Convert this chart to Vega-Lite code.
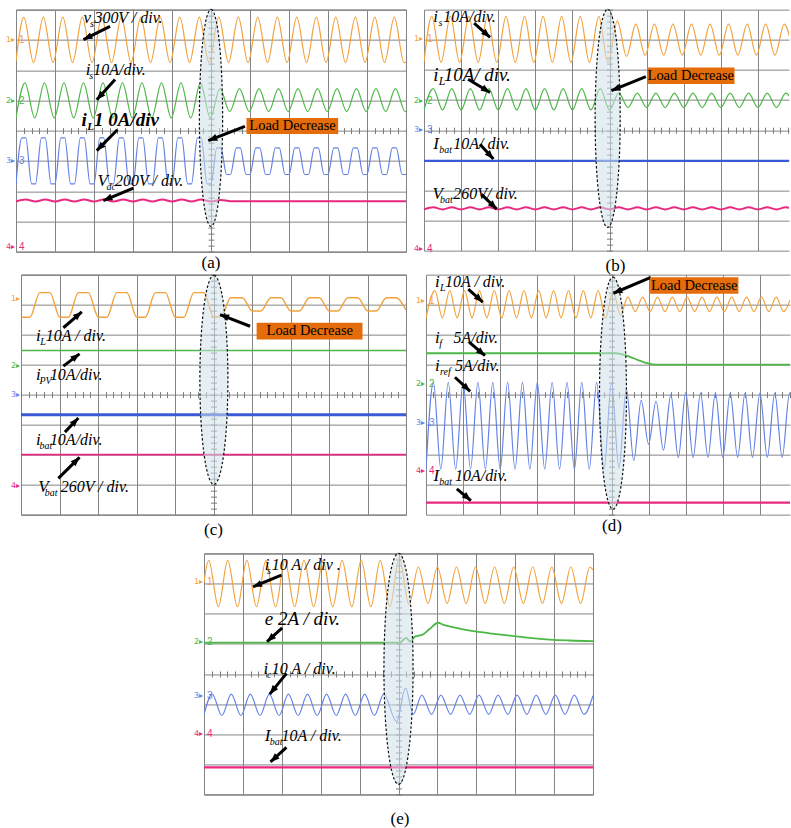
{
"$schema":"https://vega.github.io/schema/vega-lite/v6.json",
"background":"white",
"padding":{"left":0,"top":5.65,"right":0,"bottom":0},
"autosize":{"type":"pad"},
"config":{"view":{"stroke":"#5a5a5a","strokeWidth":1},"axis":{"gridColor":"#858585","gridWidth":1,"gridOpacity":1,"tickColor":"#7a7a7a"},"title":{"font":"Liberation Serif","fontSize":17,"fontWeight":"normal","color":"#000000"}},
"datasets":{
"w":[
{"p":"a","c":1,"t":0,"v":2.3},{"p":"a","c":1,"t":0.2,"v":3.75},{"p":"a","c":1,"t":0.45,"v":2.25},{"p":"a","c":1,"t":0.7,"v":3.75},{"p":"a","c":1,"t":0.95,"v":2.25},{"p":"a","c":1,"t":1.2,"v":3.75},{"p":"a","c":1,"t":1.45,"v":2.25},{"p":"a","c":1,"t":1.7,"v":3.75},{"p":"a","c":1,"t":1.95,"v":2.25},{"p":"a","c":1,"t":2.2,"v":3.75},{"p":"a","c":1,"t":2.45,"v":2.25},{"p":"a","c":1,"t":2.7,"v":3.75},{"p":"a","c":1,"t":2.95,"v":2.25},{"p":"a","c":1,"t":3.2,"v":3.75},{"p":"a","c":1,"t":3.45,"v":2.25},{"p":"a","c":1,"t":3.7,"v":3.75},{"p":"a","c":1,"t":3.95,"v":2.25},{"p":"a","c":1,"t":4.2,"v":3.75},{"p":"a","c":1,"t":4.45,"v":2.25},{"p":"a","c":1,"t":4.7,"v":3.75},{"p":"a","c":1,"t":4.95,"v":2.25},{"p":"a","c":1,"t":5.2,"v":3.75},{"p":"a","c":1,"t":5.45,"v":2.25},{"p":"a","c":1,"t":5.7,"v":3.75},{"p":"a","c":1,"t":5.95,"v":2.25},{"p":"a","c":1,"t":6.2,"v":3.75},{"p":"a","c":1,"t":6.45,"v":2.25},{"p":"a","c":1,"t":6.7,"v":3.75},{"p":"a","c":1,"t":6.95,"v":2.25},{"p":"a","c":1,"t":7.2,"v":3.75},{"p":"a","c":1,"t":7.45,"v":2.25},{"p":"a","c":1,"t":7.7,"v":3.75},{"p":"a","c":1,"t":7.95,"v":2.25},{"p":"a","c":1,"t":8.2,"v":3.75},{"p":"a","c":1,"t":8.45,"v":2.25},{"p":"a","c":1,"t":8.7,"v":3.75},{"p":"a","c":1,"t":8.95,"v":2.25},{"p":"a","c":1,"t":9.2,"v":3.75},{"p":"a","c":1,"t":9.45,"v":2.25},{"p":"a","c":1,"t":9.7,"v":3.75},{"p":"a","c":1,"t":9.95,"v":2.25},{"p":"a","c":1,"t":10,"v":2.27},
{"p":"a","c":2,"t":0,"v":0.43},{"p":"a","c":2,"t":0.23,"v":1.58},{"p":"a","c":2,"t":0.48,"v":0.42},{"p":"a","c":2,"t":0.73,"v":1.58},{"p":"a","c":2,"t":0.98,"v":0.42},{"p":"a","c":2,"t":1.23,"v":1.58},{"p":"a","c":2,"t":1.48,"v":0.42},{"p":"a","c":2,"t":1.73,"v":1.58},{"p":"a","c":2,"t":1.98,"v":0.42},{"p":"a","c":2,"t":2.23,"v":1.58},{"p":"a","c":2,"t":2.48,"v":0.42},{"p":"a","c":2,"t":2.73,"v":1.58},{"p":"a","c":2,"t":2.98,"v":0.42},{"p":"a","c":2,"t":3.23,"v":1.58},{"p":"a","c":2,"t":3.48,"v":0.42},{"p":"a","c":2,"t":3.73,"v":1.58},{"p":"a","c":2,"t":3.98,"v":0.42},{"p":"a","c":2,"t":4.23,"v":1.58},{"p":"a","c":2,"t":4.48,"v":0.42},{"p":"a","c":2,"t":4.73,"v":1.58},{"p":"a","c":2,"t":4.98,"v":0.42},{"p":"a","c":2,"t":5.23,"v":1.39},{"p":"a","c":2,"t":5.48,"v":0.63},{"p":"a","c":2,"t":5.73,"v":1.39},{"p":"a","c":2,"t":5.98,"v":0.63},{"p":"a","c":2,"t":6.23,"v":1.39},{"p":"a","c":2,"t":6.48,"v":0.63},{"p":"a","c":2,"t":6.73,"v":1.39},{"p":"a","c":2,"t":6.98,"v":0.63},{"p":"a","c":2,"t":7.23,"v":1.39},{"p":"a","c":2,"t":7.48,"v":0.63},{"p":"a","c":2,"t":7.73,"v":1.39},{"p":"a","c":2,"t":7.98,"v":0.63},{"p":"a","c":2,"t":8.23,"v":1.39},{"p":"a","c":2,"t":8.48,"v":0.63},{"p":"a","c":2,"t":8.73,"v":1.39},{"p":"a","c":2,"t":8.98,"v":0.63},{"p":"a","c":2,"t":9.23,"v":1.39},{"p":"a","c":2,"t":9.48,"v":0.63},{"p":"a","c":2,"t":9.73,"v":1.39},{"p":"a","c":2,"t":9.98,"v":0.63},{"p":"a","c":2,"t":10,"v":0.64},
{"p":"a","c":3,"t":0,"v":-1.76},
{"p":"a","c":3,"t":0.15,"v":-0.24},{"p":"a","c":3,"t":0.25,"v":-0.24},{"p":"a","c":3,"t":0.4,"v":-1.76},{"p":"a","c":3,"t":0.5,"v":-1.76},
{"p":"a","c":3,"t":0.65,"v":-0.24},{"p":"a","c":3,"t":0.75,"v":-0.24},{"p":"a","c":3,"t":0.9,"v":-1.76},{"p":"a","c":3,"t":1,"v":-1.76},
{"p":"a","c":3,"t":1.15,"v":-0.24},{"p":"a","c":3,"t":1.25,"v":-0.24},{"p":"a","c":3,"t":1.4,"v":-1.76},{"p":"a","c":3,"t":1.5,"v":-1.76},
{"p":"a","c":3,"t":1.65,"v":-0.24},{"p":"a","c":3,"t":1.75,"v":-0.24},{"p":"a","c":3,"t":1.9,"v":-1.76},{"p":"a","c":3,"t":2,"v":-1.76},
{"p":"a","c":3,"t":2.15,"v":-0.24},{"p":"a","c":3,"t":2.25,"v":-0.24},{"p":"a","c":3,"t":2.4,"v":-1.76},{"p":"a","c":3,"t":2.5,"v":-1.76},
{"p":"a","c":3,"t":2.65,"v":-0.24},{"p":"a","c":3,"t":2.75,"v":-0.24},{"p":"a","c":3,"t":2.9,"v":-1.76},{"p":"a","c":3,"t":3,"v":-1.76},
{"p":"a","c":3,"t":3.15,"v":-0.24},{"p":"a","c":3,"t":3.25,"v":-0.24},{"p":"a","c":3,"t":3.4,"v":-1.76},{"p":"a","c":3,"t":3.5,"v":-1.76},
{"p":"a","c":3,"t":3.65,"v":-0.24},{"p":"a","c":3,"t":3.75,"v":-0.24},{"p":"a","c":3,"t":3.9,"v":-1.76},{"p":"a","c":3,"t":4,"v":-1.76},
{"p":"a","c":3,"t":4.15,"v":-0.24},{"p":"a","c":3,"t":4.25,"v":-0.24},{"p":"a","c":3,"t":4.4,"v":-1.76},{"p":"a","c":3,"t":4.5,"v":-1.76},
{"p":"a","c":3,"t":4.65,"v":-0.24},{"p":"a","c":3,"t":4.75,"v":-0.24},{"p":"a","c":3,"t":4.9,"v":-1.76},{"p":"a","c":3,"t":5,"v":-1.76},
{"p":"a","c":3,"t":5.15,"v":-0.57},{"p":"a","c":3,"t":5.25,"v":-0.57},{"p":"a","c":3,"t":5.4,"v":-1.45},{"p":"a","c":3,"t":5.5,"v":-1.45},
{"p":"a","c":3,"t":5.65,"v":-0.57},{"p":"a","c":3,"t":5.75,"v":-0.57},{"p":"a","c":3,"t":5.9,"v":-1.45},{"p":"a","c":3,"t":6,"v":-1.45},
{"p":"a","c":3,"t":6.15,"v":-0.57},{"p":"a","c":3,"t":6.25,"v":-0.57},{"p":"a","c":3,"t":6.4,"v":-1.45},{"p":"a","c":3,"t":6.5,"v":-1.45},
{"p":"a","c":3,"t":6.65,"v":-0.57},{"p":"a","c":3,"t":6.75,"v":-0.57},{"p":"a","c":3,"t":6.9,"v":-1.45},{"p":"a","c":3,"t":7,"v":-1.45},
{"p":"a","c":3,"t":7.15,"v":-0.57},{"p":"a","c":3,"t":7.25,"v":-0.57},{"p":"a","c":3,"t":7.4,"v":-1.45},{"p":"a","c":3,"t":7.5,"v":-1.45},
{"p":"a","c":3,"t":7.65,"v":-0.57},{"p":"a","c":3,"t":7.75,"v":-0.57},{"p":"a","c":3,"t":7.9,"v":-1.45},{"p":"a","c":3,"t":8,"v":-1.45},
{"p":"a","c":3,"t":8.15,"v":-0.57},{"p":"a","c":3,"t":8.25,"v":-0.57},{"p":"a","c":3,"t":8.4,"v":-1.45},{"p":"a","c":3,"t":8.5,"v":-1.45},
{"p":"a","c":3,"t":8.65,"v":-0.57},{"p":"a","c":3,"t":8.75,"v":-0.57},{"p":"a","c":3,"t":8.9,"v":-1.45},{"p":"a","c":3,"t":9,"v":-1.45},
{"p":"a","c":3,"t":9.15,"v":-0.57},{"p":"a","c":3,"t":9.25,"v":-0.57},{"p":"a","c":3,"t":9.4,"v":-1.45},{"p":"a","c":3,"t":9.5,"v":-1.45},
{"p":"a","c":3,"t":9.65,"v":-0.57},{"p":"a","c":3,"t":9.75,"v":-0.57},{"p":"a","c":3,"t":9.9,"v":-1.45},{"p":"a","c":3,"t":10,"v":-1.45},
{"p":"a","c":4,"t":0,"v":-2.34},{"p":"a","c":4,"t":0.25,"v":-2.28},{"p":"a","c":4,"t":0.5,"v":-2.34},{"p":"a","c":4,"t":0.75,"v":-2.28},{"p":"a","c":4,"t":1,"v":-2.34},{"p":"a","c":4,"t":1.25,"v":-2.28},{"p":"a","c":4,"t":1.5,"v":-2.34},{"p":"a","c":4,"t":1.75,"v":-2.28},{"p":"a","c":4,"t":2,"v":-2.34},{"p":"a","c":4,"t":2.25,"v":-2.28},{"p":"a","c":4,"t":2.5,"v":-2.34},{"p":"a","c":4,"t":2.75,"v":-2.28},{"p":"a","c":4,"t":3,"v":-2.34},{"p":"a","c":4,"t":3.25,"v":-2.28},{"p":"a","c":4,"t":3.5,"v":-2.34},{"p":"a","c":4,"t":3.75,"v":-2.28},{"p":"a","c":4,"t":4,"v":-2.34},{"p":"a","c":4,"t":4.25,"v":-2.28},{"p":"a","c":4,"t":4.5,"v":-2.34},{"p":"a","c":4,"t":4.75,"v":-2.28},{"p":"a","c":4,"t":5,"v":-2.34},{"p":"a","c":4,"t":5.25,"v":-2.29},{"p":"a","c":4,"t":5.5,"v":-2.33},{"p":"a","c":4,"t":10,"v":-2.33},
{"p":"b","c":1,"t":0,"v":2.27},{"p":"b","c":1,"t":0.21,"v":3.78},{"p":"b","c":1,"t":0.46,"v":2.25},{"p":"b","c":1,"t":0.71,"v":3.78},{"p":"b","c":1,"t":0.96,"v":2.25},{"p":"b","c":1,"t":1.21,"v":3.78},{"p":"b","c":1,"t":1.46,"v":2.25},{"p":"b","c":1,"t":1.71,"v":3.78},{"p":"b","c":1,"t":1.96,"v":2.25},{"p":"b","c":1,"t":2.21,"v":3.78},{"p":"b","c":1,"t":2.46,"v":2.25},{"p":"b","c":1,"t":2.71,"v":3.78},{"p":"b","c":1,"t":2.96,"v":2.25},{"p":"b","c":1,"t":3.21,"v":3.78},{"p":"b","c":1,"t":3.46,"v":2.25},{"p":"b","c":1,"t":3.71,"v":3.78},{"p":"b","c":1,"t":3.96,"v":2.25},{"p":"b","c":1,"t":4.21,"v":3.78},{"p":"b","c":1,"t":4.46,"v":2.25},{"p":"b","c":1,"t":4.71,"v":3.78},{"p":"b","c":1,"t":4.96,"v":2.25},{"p":"b","c":1,"t":5.21,"v":3.62},{"p":"b","c":1,"t":5.46,"v":2.45},{"p":"b","c":1,"t":5.71,"v":3.52},{"p":"b","c":1,"t":5.96,"v":2.49},{"p":"b","c":1,"t":6.21,"v":3.52},{"p":"b","c":1,"t":6.46,"v":2.49},{"p":"b","c":1,"t":6.71,"v":3.52},{"p":"b","c":1,"t":6.96,"v":2.49},{"p":"b","c":1,"t":7.21,"v":3.52},{"p":"b","c":1,"t":7.46,"v":2.49},{"p":"b","c":1,"t":7.71,"v":3.52},{"p":"b","c":1,"t":7.96,"v":2.49},{"p":"b","c":1,"t":8.21,"v":3.52},{"p":"b","c":1,"t":8.46,"v":2.49},{"p":"b","c":1,"t":8.71,"v":3.52},{"p":"b","c":1,"t":8.96,"v":2.49},{"p":"b","c":1,"t":9.21,"v":3.52},{"p":"b","c":1,"t":9.46,"v":2.49},{"p":"b","c":1,"t":9.71,"v":3.52},{"p":"b","c":1,"t":9.96,"v":2.49},
{"p":"b","c":2,"t":0,"v":0.68},{"p":"b","c":2,"t":0.25,"v":1.38},{"p":"b","c":2,"t":0.5,"v":0.67},{"p":"b","c":2,"t":0.75,"v":1.38},{"p":"b","c":2,"t":1,"v":0.67},{"p":"b","c":2,"t":1.25,"v":1.38},{"p":"b","c":2,"t":1.5,"v":0.67},{"p":"b","c":2,"t":1.75,"v":1.38},{"p":"b","c":2,"t":2,"v":0.67},{"p":"b","c":2,"t":2.25,"v":1.38},{"p":"b","c":2,"t":2.5,"v":0.67},{"p":"b","c":2,"t":2.75,"v":1.38},{"p":"b","c":2,"t":3,"v":0.67},{"p":"b","c":2,"t":3.25,"v":1.38},{"p":"b","c":2,"t":3.5,"v":0.67},{"p":"b","c":2,"t":3.75,"v":1.38},{"p":"b","c":2,"t":4,"v":0.67},{"p":"b","c":2,"t":4.25,"v":1.38},{"p":"b","c":2,"t":4.5,"v":0.67},{"p":"b","c":2,"t":4.75,"v":1.38},{"p":"b","c":2,"t":5,"v":0.67},{"p":"b","c":2,"t":5.25,"v":1.23},{"p":"b","c":2,"t":5.5,"v":0.75},{"p":"b","c":2,"t":5.75,"v":1.23},{"p":"b","c":2,"t":6,"v":0.75},{"p":"b","c":2,"t":6.25,"v":1.23},{"p":"b","c":2,"t":6.5,"v":0.75},{"p":"b","c":2,"t":6.75,"v":1.23},{"p":"b","c":2,"t":7,"v":0.75},{"p":"b","c":2,"t":7.25,"v":1.23},{"p":"b","c":2,"t":7.5,"v":0.75},{"p":"b","c":2,"t":7.75,"v":1.23},{"p":"b","c":2,"t":8,"v":0.75},{"p":"b","c":2,"t":8.25,"v":1.23},{"p":"b","c":2,"t":8.5,"v":0.75},{"p":"b","c":2,"t":8.75,"v":1.23},{"p":"b","c":2,"t":9,"v":0.75},{"p":"b","c":2,"t":9.25,"v":1.23},{"p":"b","c":2,"t":9.5,"v":0.75},{"p":"b","c":2,"t":9.75,"v":1.23},{"p":"b","c":2,"t":10,"v":0.75},
{"p":"b","c":3,"t":0,"v":-1.02},{"p":"b","c":3,"t":10,"v":-1.02},
{"p":"b","c":4,"t":0,"v":-2.63},{"p":"b","c":4,"t":0.25,"v":-2.56},{"p":"b","c":4,"t":0.5,"v":-2.63},{"p":"b","c":4,"t":0.75,"v":-2.56},{"p":"b","c":4,"t":1,"v":-2.63},{"p":"b","c":4,"t":1.25,"v":-2.56},{"p":"b","c":4,"t":1.5,"v":-2.63},{"p":"b","c":4,"t":1.75,"v":-2.56},{"p":"b","c":4,"t":2,"v":-2.63},{"p":"b","c":4,"t":2.25,"v":-2.56},{"p":"b","c":4,"t":2.5,"v":-2.63},{"p":"b","c":4,"t":2.75,"v":-2.56},{"p":"b","c":4,"t":3,"v":-2.63},{"p":"b","c":4,"t":3.25,"v":-2.56},{"p":"b","c":4,"t":3.5,"v":-2.63},{"p":"b","c":4,"t":3.75,"v":-2.56},{"p":"b","c":4,"t":4,"v":-2.63},{"p":"b","c":4,"t":4.25,"v":-2.56},{"p":"b","c":4,"t":4.5,"v":-2.63},{"p":"b","c":4,"t":4.75,"v":-2.56},{"p":"b","c":4,"t":5,"v":-2.63},{"p":"b","c":4,"t":5.25,"v":-2.56},{"p":"b","c":4,"t":5.5,"v":-2.63},{"p":"b","c":4,"t":5.75,"v":-2.56},{"p":"b","c":4,"t":6,"v":-2.63},{"p":"b","c":4,"t":6.25,"v":-2.56},{"p":"b","c":4,"t":6.5,"v":-2.63},{"p":"b","c":4,"t":6.75,"v":-2.56},{"p":"b","c":4,"t":7,"v":-2.63},{"p":"b","c":4,"t":7.25,"v":-2.56},{"p":"b","c":4,"t":7.5,"v":-2.63},{"p":"b","c":4,"t":7.75,"v":-2.56},{"p":"b","c":4,"t":8,"v":-2.63},{"p":"b","c":4,"t":8.25,"v":-2.56},{"p":"b","c":4,"t":8.5,"v":-2.63},{"p":"b","c":4,"t":8.75,"v":-2.56},{"p":"b","c":4,"t":9,"v":-2.63},{"p":"b","c":4,"t":9.25,"v":-2.56},{"p":"b","c":4,"t":9.5,"v":-2.63},{"p":"b","c":4,"t":9.75,"v":-2.56},{"p":"b","c":4,"t":10,"v":-2.63},
{"p":"c","c":1,"t":0,"v":2.58},{"p":"c","c":1,"t":0.23,"v":2.58},{"p":"c","c":1,"t":0.49,"v":3.4},{"p":"c","c":1,"t":0.75,"v":3.4},{"p":"c","c":1,"t":1.01,"v":2.58},{"p":"c","c":1,"t":1.23,"v":2.58},{"p":"c","c":1,"t":1.49,"v":3.4},{"p":"c","c":1,"t":1.75,"v":3.4},{"p":"c","c":1,"t":2.01,"v":2.58},{"p":"c","c":1,"t":2.23,"v":2.58},{"p":"c","c":1,"t":2.49,"v":3.4},{"p":"c","c":1,"t":2.75,"v":3.4},{"p":"c","c":1,"t":3.01,"v":2.58},{"p":"c","c":1,"t":3.23,"v":2.58},{"p":"c","c":1,"t":3.49,"v":3.4},{"p":"c","c":1,"t":3.75,"v":3.4},{"p":"c","c":1,"t":4.01,"v":2.58},{"p":"c","c":1,"t":4.23,"v":2.58},{"p":"c","c":1,"t":4.49,"v":3.4},{"p":"c","c":1,"t":4.75,"v":3.4},{"p":"c","c":1,"t":5.01,"v":2.58},{"p":"c","c":1,"t":5.2,"v":2.6},{"p":"c","c":1,"t":5.45,"v":3.23},{"p":"c","c":1,"t":5.75,"v":3.23},{"p":"c","c":1,"t":6.01,"v":2.79},{"p":"c","c":1,"t":6.23,"v":2.79},{"p":"c","c":1,"t":6.49,"v":3.23},{"p":"c","c":1,"t":6.75,"v":3.23},{"p":"c","c":1,"t":7.01,"v":2.79},{"p":"c","c":1,"t":7.23,"v":2.79},{"p":"c","c":1,"t":7.49,"v":3.23},{"p":"c","c":1,"t":7.75,"v":3.23},{"p":"c","c":1,"t":8.01,"v":2.79},{"p":"c","c":1,"t":8.23,"v":2.79},{"p":"c","c":1,"t":8.49,"v":3.23},{"p":"c","c":1,"t":8.75,"v":3.23},{"p":"c","c":1,"t":9.01,"v":2.79},{"p":"c","c":1,"t":9.23,"v":2.79},{"p":"c","c":1,"t":9.49,"v":3.23},{"p":"c","c":1,"t":9.75,"v":3.23},{"p":"c","c":1,"t":10,"v":2.82},
{"p":"c","c":2,"t":0,"v":1.47},{"p":"c","c":2,"t":10,"v":1.47},
{"p":"c","c":3,"t":0,"v":-0.67},{"p":"c","c":3,"t":10,"v":-0.67},
{"p":"c","c":4,"t":0,"v":-2.0},{"p":"c","c":4,"t":10,"v":-2.0},
{"p":"d","c":1,"t":0,"v":2.57},{"p":"d","c":1,"t":0.24,"v":3.47},{"p":"d","c":1,"t":0.44,"v":2.56},{"p":"d","c":1,"t":0.64,"v":3.47},{"p":"d","c":1,"t":0.84,"v":2.56},{"p":"d","c":1,"t":1.04,"v":3.47},{"p":"d","c":1,"t":1.24,"v":2.56},{"p":"d","c":1,"t":1.44,"v":3.47},{"p":"d","c":1,"t":1.64,"v":2.56},{"p":"d","c":1,"t":1.84,"v":3.47},{"p":"d","c":1,"t":2.04,"v":2.56},{"p":"d","c":1,"t":2.24,"v":3.47},{"p":"d","c":1,"t":2.44,"v":2.56},{"p":"d","c":1,"t":2.64,"v":3.47},{"p":"d","c":1,"t":2.84,"v":2.56},{"p":"d","c":1,"t":3.04,"v":3.47},{"p":"d","c":1,"t":3.24,"v":2.56},{"p":"d","c":1,"t":3.44,"v":3.47},{"p":"d","c":1,"t":3.64,"v":2.56},{"p":"d","c":1,"t":3.84,"v":3.47},{"p":"d","c":1,"t":4.04,"v":2.56},{"p":"d","c":1,"t":4.24,"v":3.47},{"p":"d","c":1,"t":4.44,"v":2.56},{"p":"d","c":1,"t":4.64,"v":3.47},{"p":"d","c":1,"t":4.84,"v":2.56},{"p":"d","c":1,"t":5.04,"v":3.47},{"p":"d","c":1,"t":5.24,"v":2.65},{"p":"d","c":1,"t":5.44,"v":3.25},{"p":"d","c":1,"t":5.64,"v":2.77},{"p":"d","c":1,"t":5.84,"v":3.25},{"p":"d","c":1,"t":6.04,"v":2.77},{"p":"d","c":1,"t":6.24,"v":3.25},{"p":"d","c":1,"t":6.44,"v":2.77},{"p":"d","c":1,"t":6.64,"v":3.25},{"p":"d","c":1,"t":6.84,"v":2.77},{"p":"d","c":1,"t":7.04,"v":3.25},{"p":"d","c":1,"t":7.24,"v":2.77},{"p":"d","c":1,"t":7.44,"v":3.25},{"p":"d","c":1,"t":7.64,"v":2.77},{"p":"d","c":1,"t":7.84,"v":3.25},{"p":"d","c":1,"t":8.04,"v":2.77},{"p":"d","c":1,"t":8.24,"v":3.25},{"p":"d","c":1,"t":8.44,"v":2.77},{"p":"d","c":1,"t":8.64,"v":3.25},{"p":"d","c":1,"t":8.84,"v":2.77},{"p":"d","c":1,"t":9.04,"v":3.25},{"p":"d","c":1,"t":9.24,"v":2.77},{"p":"d","c":1,"t":9.44,"v":3.25},{"p":"d","c":1,"t":9.64,"v":2.77},{"p":"d","c":1,"t":9.84,"v":3.25},
{"p":"d","c":2,"t":0,"v":1.38},{"p":"d","c":2,"t":5.1,"v":1.38},{"p":"d","c":2,"t":5.3,"v":1.34},{"p":"d","c":2,"t":5.5,"v":1.26},{"p":"d","c":2,"t":5.7,"v":1.16},{"p":"d","c":2,"t":5.9,"v":1.07},{"p":"d","c":2,"t":6.1,"v":1.01},{"p":"d","c":2,"t":6.25,"v":1.0},{"p":"d","c":2,"t":9.84,"v":1.0},
{"p":"d","c":3,"t":0,"v":-2.48},{"p":"d","c":3,"t":0.2,"v":0.41},{"p":"d","c":3,"t":0.4,"v":-2.48},{"p":"d","c":3,"t":0.6,"v":0.41},{"p":"d","c":3,"t":0.8,"v":-2.48},{"p":"d","c":3,"t":1,"v":0.41},{"p":"d","c":3,"t":1.2,"v":-2.48},{"p":"d","c":3,"t":1.4,"v":0.41},{"p":"d","c":3,"t":1.6,"v":-2.48},{"p":"d","c":3,"t":1.8,"v":0.41},{"p":"d","c":3,"t":2,"v":-2.48},{"p":"d","c":3,"t":2.2,"v":0.41},{"p":"d","c":3,"t":2.4,"v":-2.48},{"p":"d","c":3,"t":2.6,"v":0.41},{"p":"d","c":3,"t":2.8,"v":-2.48},{"p":"d","c":3,"t":3,"v":0.41},{"p":"d","c":3,"t":3.2,"v":-2.48},{"p":"d","c":3,"t":3.4,"v":0.41},{"p":"d","c":3,"t":3.6,"v":-2.48},{"p":"d","c":3,"t":3.8,"v":0.41},{"p":"d","c":3,"t":4,"v":-2.48},{"p":"d","c":3,"t":4.2,"v":0.41},{"p":"d","c":3,"t":4.4,"v":-2.48},{"p":"d","c":3,"t":4.6,"v":0.41},{"p":"d","c":3,"t":4.8,"v":-2.48},{"p":"d","c":3,"t":5,"v":0.41},{"p":"d","c":3,"t":5.2,"v":-2.45},{"p":"d","c":3,"t":5.4,"v":0.19},{"p":"d","c":3,"t":5.6,"v":-2.2},{"p":"d","c":3,"t":5.8,"v":-0.19},{"p":"d","c":3,"t":6,"v":-1.65},{"p":"d","c":3,"t":6.2,"v":-0.22},{"p":"d","c":3,"t":6.4,"v":-1.85},{"p":"d","c":3,"t":6.6,"v":0},{"p":"d","c":3,"t":6.8,"v":-2.1},{"p":"d","c":3,"t":7,"v":0.07},{"p":"d","c":3,"t":7.2,"v":-2.09},{"p":"d","c":3,"t":7.4,"v":0.05},{"p":"d","c":3,"t":7.6,"v":-2.09},{"p":"d","c":3,"t":7.8,"v":0.05},{"p":"d","c":3,"t":8,"v":-2.09},{"p":"d","c":3,"t":8.2,"v":0.05},{"p":"d","c":3,"t":8.4,"v":-2.09},{"p":"d","c":3,"t":8.6,"v":0.05},{"p":"d","c":3,"t":8.8,"v":-2.09},{"p":"d","c":3,"t":9,"v":0.05},{"p":"d","c":3,"t":9.2,"v":-2.09},{"p":"d","c":3,"t":9.4,"v":0.05},{"p":"d","c":3,"t":9.6,"v":-2.09},{"p":"d","c":3,"t":9.8,"v":0.05},{"p":"d","c":3,"t":10,"v":-2.09},
{"p":"d","c":4,"t":0,"v":-3.6},{"p":"d","c":4,"t":9.84,"v":-3.6},
{"p":"e","c":1,"t":0,"v":3.05},{"p":"e","c":1,"t":0.12,"v":3.77},{"p":"e","c":1,"t":0.37,"v":2.23},{"p":"e","c":1,"t":0.61,"v":3.77},{"p":"e","c":1,"t":0.86,"v":2.23},{"p":"e","c":1,"t":1.1,"v":3.77},{"p":"e","c":1,"t":1.35,"v":2.23},{"p":"e","c":1,"t":1.59,"v":3.77},{"p":"e","c":1,"t":1.84,"v":2.23},{"p":"e","c":1,"t":2.08,"v":3.77},{"p":"e","c":1,"t":2.33,"v":2.23},{"p":"e","c":1,"t":2.57,"v":3.77},{"p":"e","c":1,"t":2.82,"v":2.23},{"p":"e","c":1,"t":3.06,"v":3.77},{"p":"e","c":1,"t":3.31,"v":2.23},{"p":"e","c":1,"t":3.55,"v":3.77},{"p":"e","c":1,"t":3.8,"v":2.23},{"p":"e","c":1,"t":4.04,"v":3.77},{"p":"e","c":1,"t":4.29,"v":2.23},{"p":"e","c":1,"t":4.53,"v":3.77},{"p":"e","c":1,"t":4.78,"v":2.23},{"p":"e","c":1,"t":5.02,"v":3.85},{"p":"e","c":1,"t":5.27,"v":2.3},{"p":"e","c":1,"t":5.51,"v":3.55},{"p":"e","c":1,"t":5.76,"v":2.34},{"p":"e","c":1,"t":6,"v":3.55},{"p":"e","c":1,"t":6.25,"v":2.34},{"p":"e","c":1,"t":6.49,"v":3.55},{"p":"e","c":1,"t":6.74,"v":2.34},{"p":"e","c":1,"t":6.98,"v":3.55},{"p":"e","c":1,"t":7.23,"v":2.34},{"p":"e","c":1,"t":7.47,"v":3.55},{"p":"e","c":1,"t":7.72,"v":2.34},{"p":"e","c":1,"t":7.96,"v":3.55},{"p":"e","c":1,"t":8.21,"v":2.34},{"p":"e","c":1,"t":8.45,"v":3.55},{"p":"e","c":1,"t":8.7,"v":2.34},{"p":"e","c":1,"t":8.94,"v":3.55},{"p":"e","c":1,"t":9.19,"v":2.34},{"p":"e","c":1,"t":9.43,"v":3.55},{"p":"e","c":1,"t":9.68,"v":2.34},{"p":"e","c":1,"t":9.92,"v":3.55},{"p":"e","c":1,"t":10,"v":3.45},
{"p":"e","c":2,"t":0,"v":1.04},{"p":"e","c":2,"t":5.03,"v":1.04},{"p":"e","c":2,"t":5.2,"v":1.2},{"p":"e","c":2,"t":5.3,"v":1.07},{"p":"e","c":2,"t":5.42,"v":1.24},{"p":"e","c":2,"t":5.63,"v":1.31},{"p":"e","c":2,"t":5.8,"v":1.49},{"p":"e","c":2,"t":6.02,"v":1.7},{"p":"e","c":2,"t":6.14,"v":1.64},{"p":"e","c":2,"t":6.49,"v":1.53},{"p":"e","c":2,"t":6.92,"v":1.42},{"p":"e","c":2,"t":7.34,"v":1.35},{"p":"e","c":2,"t":7.86,"v":1.27},{"p":"e","c":2,"t":8.37,"v":1.2},{"p":"e","c":2,"t":8.89,"v":1.14},{"p":"e","c":2,"t":9.4,"v":1.11},{"p":"e","c":2,"t":10,"v":1.09},
{"p":"e","c":3,"t":0,"v":-1.35},{"p":"e","c":3,"t":0.21,"v":-0.67},{"p":"e","c":3,"t":0.46,"v":-1.38},{"p":"e","c":3,"t":0.7,"v":-0.67},{"p":"e","c":3,"t":0.95,"v":-1.38},{"p":"e","c":3,"t":1.19,"v":-0.67},{"p":"e","c":3,"t":1.44,"v":-1.38},{"p":"e","c":3,"t":1.68,"v":-0.67},{"p":"e","c":3,"t":1.93,"v":-1.38},{"p":"e","c":3,"t":2.17,"v":-0.67},{"p":"e","c":3,"t":2.42,"v":-1.38},{"p":"e","c":3,"t":2.66,"v":-0.67},{"p":"e","c":3,"t":2.91,"v":-1.38},{"p":"e","c":3,"t":3.15,"v":-0.67},{"p":"e","c":3,"t":3.4,"v":-1.38},{"p":"e","c":3,"t":3.64,"v":-0.67},{"p":"e","c":3,"t":3.89,"v":-1.38},{"p":"e","c":3,"t":4.13,"v":-0.67},{"p":"e","c":3,"t":4.38,"v":-1.38},{"p":"e","c":3,"t":4.62,"v":-0.67},{"p":"e","c":3,"t":4.95,"v":-1.58},{"p":"e","c":3,"t":5.18,"v":-0.47},{"p":"e","c":3,"t":5.38,"v":-1.34},{"p":"e","c":3,"t":5.6,"v":-0.7},{"p":"e","c":3,"t":5.85,"v":-1.34},{"p":"e","c":3,"t":6.09,"v":-0.7},{"p":"e","c":3,"t":6.34,"v":-1.34},{"p":"e","c":3,"t":6.58,"v":-0.7},{"p":"e","c":3,"t":6.83,"v":-1.34},{"p":"e","c":3,"t":7.07,"v":-0.7},{"p":"e","c":3,"t":7.32,"v":-1.34},{"p":"e","c":3,"t":7.56,"v":-0.7},{"p":"e","c":3,"t":7.81,"v":-1.34},{"p":"e","c":3,"t":8.05,"v":-0.7},{"p":"e","c":3,"t":8.3,"v":-1.34},{"p":"e","c":3,"t":8.54,"v":-0.7},{"p":"e","c":3,"t":8.79,"v":-1.34},{"p":"e","c":3,"t":9.03,"v":-0.7},{"p":"e","c":3,"t":9.28,"v":-1.34},{"p":"e","c":3,"t":9.52,"v":-0.7},{"p":"e","c":3,"t":9.77,"v":-1.34},{"p":"e","c":3,"t":10,"v":-0.72},
{"p":"e","c":4,"t":0,"v":-3.1},{"p":"e","c":4,"t":10,"v":-3.1}
],
"ell":[{"p":"a","t":5.0,"v":0.42},{"p":"b","t":4.95,"v":0.39},{"p":"c","t":5.01,"v":0.49},{"p":"d","t":5.04,"v":0.05},{"p":"e","t":5.0,"v":0.17}],
"arr":[
{"p":"a","t1":2.41,"v1":3.45,"t2":1.73,"v2":3.01},{"p":"a","t1":2.54,"v1":1.69,"t2":2.07,"v2":1.02},{"p":"a","t1":2.6,"v1":0.03,"t2":2.07,"v2":-0.66},{"p":"a","t1":3.01,"v1":-1.9,"t2":2.24,"v2":-2.31},{"p":"a","t1":5.87,"v1":0.14,"t2":4.93,"v2":-0.33},
{"p":"b","t1":1.35,"v1":3.55,"t2":1.78,"v2":3.08},{"p":"b","t1":1.19,"v1":1.69,"t2":1.78,"v2":1.25},{"p":"b","t1":1.51,"v1":-0.47,"t2":1.87,"v2":-0.96},{"p":"b","t1":1.55,"v1":-2.13,"t2":1.96,"v2":-2.62},{"p":"b","t1":5.98,"v1":1.78,"t2":5.05,"v2":1.31},
{"p":"c","t1":1.1,"v1":2.23,"t2":1.58,"v2":2.76},{"p":"c","t1":1.1,"v1":0.95,"t2":1.52,"v2":1.36},{"p":"c","t1":1.14,"v1":-1.25,"t2":1.49,"v2":-0.78},{"p":"c","t1":0.97,"v1":-2.79,"t2":1.52,"v2":-2.09},{"p":"c","t1":5.95,"v1":2.28,"t2":5.17,"v2":2.67},
{"p":"d","t1":1.14,"v1":3.52,"t2":1.53,"v2":3.08},{"p":"d","t1":1.17,"v1":1.74,"t2":1.59,"v2":1.3},{"p":"d","t1":0.78,"v1":0.58,"t2":1.19,"v2":0.11},{"p":"d","t1":0.83,"v1":-3.14,"t2":1.21,"v2":-3.53},{"p":"d","t1":6.06,"v1":3.91,"t2":5.05,"v2":3.38},
{"p":"e","t1":1.99,"v1":3.28,"t2":1.26,"v2":2.89},{"p":"e","t1":2.01,"v1":1.53,"t2":1.62,"v2":1.07},{"p":"e","t1":2.12,"v1":0.02,"t2":1.69,"v2":-0.67},{"p":"e","t1":2.12,"v1":-2.44,"t2":1.71,"v2":-2.92}
],
"lab":[
{"p":"a","b":"v","s":"s","r":"300V / div.","tb":1.73,"vb":3.56,"ts":1.9,"tr":2.01},
{"p":"a","b":"i","s":"s","r":"10A/div.","tb":1.79,"vb":1.83,"ts":1.88,"tr":1.98},
{"p":"a","b":"i","s":"L","r":"1 0A/div","tb":1.68,"vb":0.14,"ts":1.83,"tr":2.0},
{"p":"a","b":"V","s":"dc","r":"200V / div.","tb":2.09,"vb":-1.84,"ts":2.32,"tr":2.54},
{"p":"b","b":"i","s":"s","r":"10A/div.","tb":0.25,"vb":3.58,"ts":0.39,"tr":0.52},
{"p":"b","b":"i","s":"L","r":"10A/ div.","tb":0.25,"vb":1.64,"ts":0.4,"tr":0.53},
{"p":"b","b":"I","s":"bat","r":"10A/ div.","tb":0.25,"vb":-0.63,"ts":0.41,"tr":0.79},
{"p":"b","b":"V","s":"bat","r":"260V/ div.","tb":0.23,"vb":-2.29,"ts":0.43,"tr":0.79},
{"p":"c","b":"i","s":"L","r":"10A / div.","tb":0.39,"vb":1.8,"ts":0.5,"tr":0.64},
{"p":"c","b":"i","s":"PV","r":"10A/div.","tb":0.39,"vb":0.5,"ts":0.48,"tr":0.75},
{"p":"c","b":"i","s":"bat","r":"10A/div.","tb":0.39,"vb":-1.67,"ts":0.48,"tr":0.75},
{"p":"c","b":"V","s":"bat","r":"260V / div.","tb":0.45,"vb":-3.25,"ts":0.62,"tr":1.03},
{"p":"d","b":"i","s":"L","r":"10A / div.","tb":0.24,"vb":3.6,"ts":0.38,"tr":0.51},
{"p":"d","b":"i","s":"f","r":"5A/div.","tb":0.24,"vb":1.71,"ts":0.36,"tr":0.74},
{"p":"d","b":"i","s":"ref","r":"5A/div.","tb":0.24,"vb":0.8,"ts":0.38,"tr":0.78},
{"p":"d","b":"I","s":"bat","r":"10A/div.","tb":0.2,"vb":-2.87,"ts":0.36,"tr":0.78},
{"p":"e","b":"i","s":"s","r":"10 A / div .","tb":1.56,"vb":3.44,"ts":1.62,"tr":1.74},
{"p":"e","b":"e","s":"","r":"2A / div.","tb":1.56,"vb":1.62,"ts":1.7,"tr":1.9},
{"p":"e","b":"i","s":"c","r":"10 A / div.","tb":1.53,"vb":-0.01,"ts":1.62,"tr":1.74},
{"p":"e","b":"I","s":"bat","r":"10A / div.","tb":1.56,"vb":-2.22,"ts":1.69,"tr":1.99}
],
"box":[
{"p":"a","t1":5.91,"t2":8.26,"v1":0.42,"v2":-0.11,"tc":7.09,"vc":0.155},
{"p":"b","t1":6.01,"t2":8.37,"v1":2.08,"v2":1.53,"tc":7.19,"vc":1.805},
{"p":"c","t1":6.12,"t2":8.87,"v1":2.4,"v2":1.84,"tc":7.5,"vc":2.12},
{"p":"d","t1":6.04,"t2":8.42,"v1":3.91,"v2":3.36,"tc":7.23,"vc":3.635}
],
"chm":[
{"p":"a","c":1,"v":3.0,"m":"1▸"},{"p":"a","c":2,"v":0.99,"m":"2▸"},{"p":"a","c":3,"v":-0.99,"m":"3▸"},{"p":"a","c":4,"v":-3.86,"m":"4▸"},
{"p":"b","c":1,"v":3.02,"m":"1▸"},{"p":"b","c":2,"v":0.97,"m":"2▸"},{"p":"b","c":3,"v":0,"m":"3▸"},{"p":"b","c":4,"v":-3.95,"m":"4▸"},
{"p":"c","c":1,"v":3.18,"m":"1▸"},{"p":"c","c":2,"v":0.97,"m":"2▸"},{"p":"c","c":3,"v":0,"m":"3▸"},{"p":"c","c":4,"v":-3.06,"m":"4▸"},
{"p":"d","c":1,"v":3.13,"m":"1▸"},{"p":"d","c":2,"v":0.36,"m":"2▸"},{"p":"d","c":3,"v":-0.96,"m":"3▸"},{"p":"d","c":4,"v":-2.56,"m":"4▸"},
{"p":"e","c":1,"v":3.04,"m":"1▸"},{"p":"e","c":2,"v":1.07,"m":"2▸"},{"p":"e","c":3,"v":-0.72,"m":"3▸"},{"p":"e","c":4,"v":-2.0,"m":"4▸"}
]
},
"spacing":10.8,
"bounds":"full",
"vconcat":[
{"spacing":-5,"bounds":"full","vconcat":[
{"spacing":0,"bounds":"flush","hconcat":[
{"width":16,"height":10,"view":{"stroke":null},"data":{"values":[{"z":0}]},"mark":{"type":"point","opacity":0},"encoding":{}},
{"width":390,"height":242,"title":{"text":"(a)","orient":"bottom","offset":3,"baseline":"top"},
"layer":[
{"data":{"name":"w"},"transform":[{"filter":"datum.p=='a'"}],"mark":{"type":"line","interpolate":"monotone","clip":true},
"encoding":{"x":{"field":"t","type":"quantitative","scale":{"domain":[0,10],"nice":false,"zero":false},"axis":{"orient":"top","values":[0,1,2,3,4,5,6,7,8,9,10],"grid":true,"labels":false,"ticks":false,"domain":false,"title":null}},
"y":{"field":"v","type":"quantitative","scale":{"domain":[-4,4],"nice":false,"zero":false},"axis":{"orient":"right","minExtent":0,"values":[-4,-3,-2,-1,0,1,2,3,4],"grid":true,"labels":false,"ticks":false,"domain":false,"title":null}},
"color":{"field":"c","type":"nominal","scale":{"domain":[1,2,3,4],"range":["#F2A23C","#4DB748","#6482E6","#E8297F"]},"legend":null},
"strokeWidth":{"condition":{"test":"datum.c==4","value":2},"value":1.2}}},
{"data":{"name":"ell"},"transform":[{"filter":"datum.p=='a'"}],"mark":{"type":"point","shape":"M0,-1A0.107,1,0,1,1,0,1A0.107,1,0,1,1,0,-1Z","size":47089,"filled":true,"fill":"#cfe2ea","fillOpacity":0.55,"stroke":"#111111","strokeWidth":1.2,"strokeDash":[2.5,2],"opacity":1},
"encoding":{"x":{"field":"t","type":"quantitative","axis":{"orient":"bottom","offset":-124,"tickCount":50,"ticks":true,"tickSize":6,"labels":false,"domain":false,"grid":false,"title":null}},
"y":{"field":"v","type":"quantitative","axis":{"orient":"left","offset":-198,"tickCount":40,"ticks":true,"tickSize":6,"labels":false,"domain":false,"grid":false,"title":null}}}},
{"data":{"name":"arr"},"transform":[{"filter":"datum.p=='a'"}],"mark":{"type":"rule","strokeWidth":3,"color":"#000000"},
"encoding":{"x":{"field":"t1","type":"quantitative","axis":null},"y":{"field":"v1","type":"quantitative","axis":null},"x2":{"field":"t2"},"y2":{"field":"v2"}}},
{"data":{"name":"arr"},"transform":[{"filter":"datum.p=='a'"},{"calculate":"atan2((datum.t2-datum.t1)*39,(datum.v2-datum.v1)*30.25)*180/PI","as":"ang"}],"mark":{"type":"point","shape":"M0,0L0.7,1.8L-0.7,1.8Z","size":100,"filled":true,"color":"#000000","opacity":1},
"encoding":{"x":{"field":"t2","type":"quantitative","axis":null},"y":{"field":"v2","type":"quantitative","axis":null},"angle":{"field":"ang","type":"quantitative","scale":null}}},
{"data":{"name":"lab"},"transform":[{"filter":"datum.p=='a' && datum.s!='L'"}],"mark":{"type":"text","font":"Liberation Serif","fontStyle":"italic","align":"left","baseline":"alphabetic","color":"#000000","fontSize":17},
"encoding":{"x":{"field":"tb","type":"quantitative","axis":null},"y":{"field":"vb","type":"quantitative","axis":null},"text":{"field":"b","type":"nominal"}}},
{"data":{"name":"lab"},"transform":[{"filter":"datum.p=='a' && datum.s!='L'"}],"mark":{"type":"text","font":"Liberation Serif","fontStyle":"italic","align":"left","baseline":"alphabetic","color":"#000000","fontSize":10,"dy":4},
"encoding":{"x":{"field":"ts","type":"quantitative","axis":null},"y":{"field":"vb","type":"quantitative","axis":null},"text":{"field":"s","type":"nominal"}}},
{"data":{"name":"lab"},"transform":[{"filter":"datum.p=='a' && datum.s!='L'"}],"mark":{"type":"text","font":"Liberation Serif","fontStyle":"italic","align":"left","baseline":"alphabetic","color":"#000000","fontSize":16},
"encoding":{"x":{"field":"tr","type":"quantitative","axis":null},"y":{"field":"vb","type":"quantitative","axis":null},"text":{"field":"r","type":"nominal"}}},
{"data":{"name":"lab"},"transform":[{"filter":"datum.p=='a' && datum.s=='L'"}],"mark":{"type":"text","font":"Liberation Serif","fontStyle":"italic","fontWeight":"bold","align":"left","baseline":"alphabetic","color":"#000000","fontSize":19},
"encoding":{"x":{"field":"tb","type":"quantitative","axis":null},"y":{"field":"vb","type":"quantitative","axis":null},"text":{"field":"b","type":"nominal"}}},
{"data":{"name":"lab"},"transform":[{"filter":"datum.p=='a' && datum.s=='L'"}],"mark":{"type":"text","font":"Liberation Serif","fontStyle":"italic","fontWeight":"bold","align":"left","baseline":"alphabetic","color":"#000000","fontSize":11,"dy":4},
"encoding":{"x":{"field":"ts","type":"quantitative","axis":null},"y":{"field":"vb","type":"quantitative","axis":null},"text":{"field":"s","type":"nominal"}}},
{"data":{"name":"lab"},"transform":[{"filter":"datum.p=='a' && datum.s=='L'"}],"mark":{"type":"text","font":"Liberation Serif","fontStyle":"italic","fontWeight":"bold","align":"left","baseline":"alphabetic","color":"#000000","fontSize":19},
"encoding":{"x":{"field":"tr","type":"quantitative","axis":null},"y":{"field":"vb","type":"quantitative","axis":null},"text":{"field":"r","type":"nominal"}}},
{"data":{"name":"box"},"transform":[{"filter":"datum.p=='a'"}],"mark":{"type":"rect","color":"#E46C0A"},
"encoding":{"x":{"field":"t1","type":"quantitative","axis":null},"x2":{"field":"t2"},"y":{"field":"v1","type":"quantitative","axis":null},"y2":{"field":"v2"}}},
{"data":{"name":"box"},"transform":[{"filter":"datum.p=='a'"}],"mark":{"type":"text","font":"Liberation Serif","fontSize":14.5,"align":"center","baseline":"middle","color":"#000000"},
"encoding":{"x":{"field":"tc","type":"quantitative","axis":null},"y":{"field":"vc","type":"quantitative","axis":null},"text":{"value":"Load Decrease"}}},
{"data":{"name":"chm"},"transform":[{"filter":"datum.p=='a'"}],"mark":{"type":"text","font":"DejaVu Sans","fontSize":8,"align":"right","baseline":"middle","dx":-1},
"encoding":{"x":{"datum":0,"type":"quantitative","axis":null},"y":{"field":"v","type":"quantitative","axis":null},"text":{"field":"m","type":"nominal"},"color":{"field":"c","type":"nominal","legend":null}}},
{"data":{"name":"chm"},"transform":[{"filter":"datum.p=='a'"}],"mark":{"type":"text","font":"Liberation Sans","fontSize":10,"align":"left","baseline":"middle","dx":3},
"encoding":{"x":{"datum":0,"type":"quantitative","axis":null},"y":{"field":"v","type":"quantitative","axis":null},"text":{"field":"c","type":"nominal"},"color":{"field":"c","type":"nominal","legend":null}}}
]},
{"width":18,"height":10,"view":{"stroke":null},"data":{"values":[{"z":0}]},"mark":{"type":"point","opacity":0},"encoding":{}},
{"width":365,"height":241,"view":{"stroke":null},"title":{"text":"(b)","orient":"bottom","offset":4,"dx":9,"baseline":"top"},
"layer":[
{"data":{"name":"w"},"transform":[{"filter":"datum.p=='b'"}],"mark":{"type":"line","interpolate":"monotone","clip":true},
"encoding":{"x":{"field":"t","type":"quantitative","scale":{"domain":[0,9.838],"nice":false,"zero":false},"axis":{"orient":"top","values":[0,1,2,3,4,5,6,7,8,9],"grid":true,"labels":false,"ticks":false,"domain":false,"title":null}},
"y":{"field":"v","type":"quantitative","scale":{"domain":[-4,4],"nice":false,"zero":false},"axis":{"orient":"right","minExtent":0,"values":[-4,-3,-2,-1,0,1,2,3,4],"grid":true,"labels":false,"ticks":false,"domain":false,"title":null}},
"color":{"condition":{"test":"datum.c==3","value":"#3A5AD5"},"field":"c","type":"nominal","scale":{"domain":[1,2,3,4],"range":["#F2A23C","#4DB748","#6482E6","#E8297F"]},"legend":null},
"strokeWidth":{"condition":[{"test":"datum.c==4","value":2},{"test":"datum.c==3","value":2.4}],"value":1.2}}},
{"data":{"name":"ell"},"transform":[{"filter":"datum.p=='b'"}],"mark":{"type":"point","shape":"M0,-1A0.115,1,0,1,1,0,1A0.115,1,0,1,1,0,-1Z","size":47524,"filled":true,"fill":"#cfe2ea","fillOpacity":0.55,"stroke":"#111111","strokeWidth":1.2,"strokeDash":[2.5,2],"opacity":1},
"encoding":{"x":{"field":"t","type":"quantitative","axis":{"orient":"bottom","offset":-123.5,"tickCount":50,"ticks":true,"tickSize":6,"labels":false,"domain":false,"grid":false,"title":null}},
"y":{"field":"v","type":"quantitative","axis":{"orient":"left","offset":-188.5,"tickCount":40,"ticks":true,"tickSize":6,"labels":false,"domain":false,"grid":false,"title":null}}}},
{"data":{"name":"arr"},"transform":[{"filter":"datum.p=='b'"}],"mark":{"type":"rule","strokeWidth":3,"color":"#000000"},
"encoding":{"x":{"field":"t1","type":"quantitative","axis":null},"y":{"field":"v1","type":"quantitative","axis":null},"x2":{"field":"t2"},"y2":{"field":"v2"}}},
{"data":{"name":"arr"},"transform":[{"filter":"datum.p=='b'"},{"calculate":"atan2((datum.t2-datum.t1)*37.1,(datum.v2-datum.v1)*30.125)*180/PI","as":"ang"}],"mark":{"type":"point","shape":"M0,0L0.7,1.8L-0.7,1.8Z","size":100,"filled":true,"color":"#000000","opacity":1},
"encoding":{"x":{"field":"t2","type":"quantitative","axis":null},"y":{"field":"v2","type":"quantitative","axis":null},"angle":{"field":"ang","type":"quantitative","scale":null}}},
{"data":{"name":"lab"},"transform":[{"filter":"datum.p=='b'"}],"mark":{"type":"text","font":"Liberation Serif","fontStyle":"italic","align":"left","baseline":"alphabetic","color":"#000000"},
"encoding":{"x":{"field":"tb","type":"quantitative","axis":null},"y":{"field":"vb","type":"quantitative","axis":null},"text":{"field":"b","type":"nominal"},"size":{"condition":{"test":"datum.s=='L'","value":19},"value":17}}},
{"data":{"name":"lab"},"transform":[{"filter":"datum.p=='b'"}],"mark":{"type":"text","font":"Liberation Serif","fontStyle":"italic","align":"left","baseline":"alphabetic","color":"#000000","dy":4},
"encoding":{"x":{"field":"ts","type":"quantitative","axis":null},"y":{"field":"vb","type":"quantitative","axis":null},"text":{"field":"s","type":"nominal"},"size":{"condition":{"test":"datum.s=='L'","value":12},"value":10}}},
{"data":{"name":"lab"},"transform":[{"filter":"datum.p=='b'"}],"mark":{"type":"text","font":"Liberation Serif","fontStyle":"italic","align":"left","baseline":"alphabetic","color":"#000000"},
"encoding":{"x":{"field":"tr","type":"quantitative","axis":null},"y":{"field":"vb","type":"quantitative","axis":null},"text":{"field":"r","type":"nominal"},"size":{"condition":{"test":"datum.s=='L'","value":19},"value":16}}},
{"data":{"name":"box"},"transform":[{"filter":"datum.p=='b'"}],"mark":{"type":"rect","color":"#E46C0A"},
"encoding":{"x":{"field":"t1","type":"quantitative","axis":null},"x2":{"field":"t2"},"y":{"field":"v1","type":"quantitative","axis":null},"y2":{"field":"v2"}}},
{"data":{"name":"box"},"transform":[{"filter":"datum.p=='b'"}],"mark":{"type":"text","font":"Liberation Serif","fontSize":14.5,"align":"center","baseline":"middle","color":"#000000"},
"encoding":{"x":{"field":"tc","type":"quantitative","axis":null},"y":{"field":"vc","type":"quantitative","axis":null},"text":{"value":"Load Decrease"}}},
{"data":{"name":"chm"},"transform":[{"filter":"datum.p=='b'"}],"mark":{"type":"text","font":"DejaVu Sans","fontSize":8,"align":"right","baseline":"middle","dx":-1},
"encoding":{"x":{"datum":0,"type":"quantitative","axis":null},"y":{"field":"v","type":"quantitative","axis":null},"text":{"field":"m","type":"nominal"},"color":{"field":"c","type":"nominal","legend":null}}},
{"data":{"name":"chm"},"transform":[{"filter":"datum.p=='b'"}],"mark":{"type":"text","font":"Liberation Sans","fontSize":10,"align":"left","baseline":"middle","dx":3},
"encoding":{"x":{"datum":0,"type":"quantitative","axis":null},"y":{"field":"v","type":"quantitative","axis":null},"text":{"field":"c","type":"nominal"},"color":{"field":"c","type":"nominal","legend":null}}}
]}
]},
{"spacing":0,"bounds":"flush","hconcat":[
{"width":21,"height":10,"view":{"stroke":null},"data":{"values":[{"z":0}]},"mark":{"type":"point","opacity":0},"encoding":{}},
{"width":385,"height":240,"title":{"text":"(c)","orient":"bottom","offset":6.5,"baseline":"top"},
"layer":[
{"data":{"name":"w"},"transform":[{"filter":"datum.p=='c'"}],"mark":{"type":"line","interpolate":"monotone","clip":true},
"encoding":{"x":{"field":"t","type":"quantitative","scale":{"domain":[0,10],"nice":false,"zero":false},"axis":{"orient":"top","values":[0,1,2,3,4,5,6,7,8,9,10],"grid":true,"labels":false,"ticks":false,"domain":false,"title":null}},
"y":{"field":"v","type":"quantitative","scale":{"domain":[-4,4],"nice":false,"zero":false},"axis":{"orient":"right","minExtent":0,"values":[-4,-3,-2,-1,0,1,2,3,4],"grid":true,"labels":false,"ticks":false,"domain":false,"title":null}},
"color":{"condition":{"test":"datum.c==3","value":"#3A5AD5"},"field":"c","type":"nominal","scale":{"domain":[1,2,3,4],"range":["#E8922E","#4DB748","#6482E6","#E8297F"]},"legend":null},
"strokeWidth":{"condition":[{"test":"datum.c==3","value":3},{"test":"datum.c==1","value":1.4}],"value":1.6}}},
{"data":{"name":"ell"},"transform":[{"filter":"datum.p=='c'"}],"mark":{"type":"point","shape":"M0,-1A0.134,1,0,1,1,0,1A0.134,1,0,1,1,0,-1Z","size":43681,"filled":true,"fill":"#cfe2ea","fillOpacity":0.55,"stroke":"#111111","strokeWidth":1.2,"strokeDash":[2.5,2],"opacity":1},
"encoding":{"x":{"field":"t","type":"quantitative","axis":{"orient":"bottom","offset":-123,"tickCount":50,"ticks":true,"tickSize":6,"labels":false,"domain":false,"grid":false,"title":null}},
"y":{"field":"v","type":"quantitative","axis":{"orient":"left","offset":-195.5,"tickCount":40,"ticks":true,"tickSize":6,"labels":false,"domain":false,"grid":false,"title":null}}}},
{"data":{"name":"arr"},"transform":[{"filter":"datum.p=='c'"}],"mark":{"type":"rule","strokeWidth":3,"color":"#000000"},
"encoding":{"x":{"field":"t1","type":"quantitative","axis":null},"y":{"field":"v1","type":"quantitative","axis":null},"x2":{"field":"t2"},"y2":{"field":"v2"}}},
{"data":{"name":"arr"},"transform":[{"filter":"datum.p=='c'"},{"calculate":"atan2((datum.t2-datum.t1)*38.5,(datum.v2-datum.v1)*30)*180/PI","as":"ang"}],"mark":{"type":"point","shape":"M0,0L0.7,1.8L-0.7,1.8Z","size":100,"filled":true,"color":"#000000","opacity":1},
"encoding":{"x":{"field":"t2","type":"quantitative","axis":null},"y":{"field":"v2","type":"quantitative","axis":null},"angle":{"field":"ang","type":"quantitative","scale":null}}},
{"data":{"name":"lab"},"transform":[{"filter":"datum.p=='c'"}],"mark":{"type":"text","font":"Liberation Serif","fontStyle":"italic","align":"left","baseline":"alphabetic","color":"#000000","fontSize":17},
"encoding":{"x":{"field":"tb","type":"quantitative","axis":null},"y":{"field":"vb","type":"quantitative","axis":null},"text":{"field":"b","type":"nominal"}}},
{"data":{"name":"lab"},"transform":[{"filter":"datum.p=='c'"}],"mark":{"type":"text","font":"Liberation Serif","fontStyle":"italic","align":"left","baseline":"alphabetic","color":"#000000","fontSize":10,"dy":4},
"encoding":{"x":{"field":"ts","type":"quantitative","axis":null},"y":{"field":"vb","type":"quantitative","axis":null},"text":{"field":"s","type":"nominal"}}},
{"data":{"name":"lab"},"transform":[{"filter":"datum.p=='c'"}],"mark":{"type":"text","font":"Liberation Serif","fontStyle":"italic","align":"left","baseline":"alphabetic","color":"#000000","fontSize":16},
"encoding":{"x":{"field":"tr","type":"quantitative","axis":null},"y":{"field":"vb","type":"quantitative","axis":null},"text":{"field":"r","type":"nominal"}}},
{"data":{"name":"box"},"transform":[{"filter":"datum.p=='c'"}],"mark":{"type":"rect","color":"#E46C0A"},
"encoding":{"x":{"field":"t1","type":"quantitative","axis":null},"x2":{"field":"t2"},"y":{"field":"v1","type":"quantitative","axis":null},"y2":{"field":"v2"}}},
{"data":{"name":"box"},"transform":[{"filter":"datum.p=='c'"}],"mark":{"type":"text","font":"Liberation Serif","fontSize":14.5,"align":"center","baseline":"middle","color":"#000000"},
"encoding":{"x":{"field":"tc","type":"quantitative","axis":null},"y":{"field":"vc","type":"quantitative","axis":null},"text":{"value":"Load Decrease"}}},
{"data":{"name":"chm"},"transform":[{"filter":"datum.p=='c'"}],"mark":{"type":"text","font":"DejaVu Sans","fontSize":8,"align":"right","baseline":"middle","dx":-1},
"encoding":{"x":{"datum":0,"type":"quantitative","axis":null},"y":{"field":"v","type":"quantitative","axis":null},"text":{"field":"m","type":"nominal"},"color":{"field":"c","type":"nominal","legend":null}}}
]},
{"width":20,"height":10,"view":{"stroke":null},"data":{"values":[{"z":0}]},"mark":{"type":"point","opacity":0},"encoding":{}},
{"width":364,"height":240,"view":{"stroke":null},"title":{"text":"(d)","orient":"bottom","offset":3,"dx":4,"baseline":"top"},
"layer":[
{"data":{"name":"w"},"transform":[{"filter":"datum.p=='d'"}],"mark":{"type":"line","interpolate":"monotone","clip":true},
"encoding":{"x":{"field":"t","type":"quantitative","scale":{"domain":[0,9.811],"nice":false,"zero":false},"axis":{"orient":"top","values":[0,1,2,3,4,5,6,7,8,9],"grid":true,"labels":false,"ticks":false,"domain":false,"title":null}},
"y":{"field":"v","type":"quantitative","scale":{"domain":[-4,4],"nice":false,"zero":false},"axis":{"orient":"right","minExtent":0,"values":[-4,-3,-2,-1,0,1,2,3,4],"grid":true,"labels":false,"ticks":false,"domain":false,"title":null}},
"color":{"field":"c","type":"nominal","scale":{"domain":[1,2,3,4],"range":["#F2A23C","#4DB748","#6482E6","#E8297F"]},"legend":null},
"strokeWidth":{"condition":[{"test":"datum.c==4","value":2.2},{"test":"datum.c==2","value":1.8}],"value":1.2}}},
{"data":{"name":"ell"},"transform":[{"filter":"datum.p=='d'"}],"mark":{"type":"point","shape":"M0,-1A0.116,1,0,1,1,0,1A0.116,1,0,1,1,0,-1Z","size":53824,"filled":true,"fill":"#cfe2ea","fillOpacity":0.55,"stroke":"#111111","strokeWidth":1.2,"strokeDash":[2.5,2],"opacity":1},
"encoding":{"x":{"field":"t","type":"quantitative","axis":{"orient":"bottom","offset":-123,"tickCount":50,"ticks":true,"tickSize":6,"labels":false,"domain":false,"grid":false,"title":null}},
"y":{"field":"v","type":"quantitative","axis":{"orient":"left","offset":-188.5,"tickCount":40,"ticks":true,"tickSize":6,"labels":false,"domain":false,"grid":false,"title":null}}}},
{"data":{"name":"arr"},"transform":[{"filter":"datum.p=='d'"}],"mark":{"type":"rule","strokeWidth":3,"color":"#000000"},
"encoding":{"x":{"field":"t1","type":"quantitative","axis":null},"y":{"field":"v1","type":"quantitative","axis":null},"x2":{"field":"t2"},"y2":{"field":"v2"}}},
{"data":{"name":"arr"},"transform":[{"filter":"datum.p=='d'"},{"calculate":"atan2((datum.t2-datum.t1)*37.1,(datum.v2-datum.v1)*30)*180/PI","as":"ang"}],"mark":{"type":"point","shape":"M0,0L0.7,1.8L-0.7,1.8Z","size":100,"filled":true,"color":"#000000","opacity":1},
"encoding":{"x":{"field":"t2","type":"quantitative","axis":null},"y":{"field":"v2","type":"quantitative","axis":null},"angle":{"field":"ang","type":"quantitative","scale":null}}},
{"data":{"name":"lab"},"transform":[{"filter":"datum.p=='d'"}],"mark":{"type":"text","font":"Liberation Serif","fontStyle":"italic","align":"left","baseline":"alphabetic","color":"#000000","fontSize":17},
"encoding":{"x":{"field":"tb","type":"quantitative","axis":null},"y":{"field":"vb","type":"quantitative","axis":null},"text":{"field":"b","type":"nominal"}}},
{"data":{"name":"lab"},"transform":[{"filter":"datum.p=='d'"}],"mark":{"type":"text","font":"Liberation Serif","fontStyle":"italic","align":"left","baseline":"alphabetic","color":"#000000","fontSize":10,"dy":4},
"encoding":{"x":{"field":"ts","type":"quantitative","axis":null},"y":{"field":"vb","type":"quantitative","axis":null},"text":{"field":"s","type":"nominal"}}},
{"data":{"name":"lab"},"transform":[{"filter":"datum.p=='d'"}],"mark":{"type":"text","font":"Liberation Serif","fontStyle":"italic","align":"left","baseline":"alphabetic","color":"#000000","fontSize":16},
"encoding":{"x":{"field":"tr","type":"quantitative","axis":null},"y":{"field":"vb","type":"quantitative","axis":null},"text":{"field":"r","type":"nominal"}}},
{"data":{"name":"box"},"transform":[{"filter":"datum.p=='d'"}],"mark":{"type":"rect","color":"#E46C0A"},
"encoding":{"x":{"field":"t1","type":"quantitative","axis":null},"x2":{"field":"t2"},"y":{"field":"v1","type":"quantitative","axis":null},"y2":{"field":"v2"}}},
{"data":{"name":"box"},"transform":[{"filter":"datum.p=='d'"}],"mark":{"type":"text","font":"Liberation Serif","fontSize":14.5,"align":"center","baseline":"middle","color":"#000000"},
"encoding":{"x":{"field":"tc","type":"quantitative","axis":null},"y":{"field":"vc","type":"quantitative","axis":null},"text":{"value":"Load Decrease"}}},
{"data":{"name":"chm"},"transform":[{"filter":"datum.p=='d'"}],"mark":{"type":"text","font":"DejaVu Sans","fontSize":8,"align":"right","baseline":"middle","dx":-1},
"encoding":{"x":{"datum":0,"type":"quantitative","axis":null},"y":{"field":"v","type":"quantitative","axis":null},"text":{"field":"m","type":"nominal"},"color":{"field":"c","type":"nominal","legend":null}}},
{"data":{"name":"chm"},"transform":[{"filter":"datum.p=='d'"}],"mark":{"type":"text","font":"Liberation Sans","fontSize":10,"align":"left","baseline":"middle","dx":3},
"encoding":{"x":{"datum":0,"type":"quantitative","axis":null},"y":{"field":"v","type":"quantitative","axis":null},"text":{"field":"c","type":"nominal"},"color":{"field":"c","type":"nominal","legend":null}}}
]}
]}
]},
{"spacing":0,"bounds":"flush","hconcat":[
{"width":204,"height":10,"view":{"stroke":null},"data":{"values":[{"z":0}]},"mark":{"type":"point","opacity":0},"encoding":{}},
{"width":389,"height":241,"title":{"text":"(e)","orient":"bottom","offset":16.5,"dx":1.5,"baseline":"top"},
"layer":[
{"data":{"name":"w"},"transform":[{"filter":"datum.p=='e'"}],"mark":{"type":"line","interpolate":"monotone","clip":true},
"encoding":{"x":{"field":"t","type":"quantitative","scale":{"domain":[0,10],"nice":false,"zero":false},"axis":{"orient":"top","values":[0,1,2,3,4,5,6,7,8,9,10],"grid":true,"labels":false,"ticks":false,"domain":false,"title":null}},
"y":{"field":"v","type":"quantitative","scale":{"domain":[-4,4],"nice":false,"zero":false},"axis":{"orient":"right","minExtent":0,"values":[-4,-3,-2,-1,0,1,2,3,4],"grid":true,"labels":false,"ticks":false,"domain":false,"title":null}},
"color":{"field":"c","type":"nominal","scale":{"domain":[1,2,3,4],"range":["#F2A23C","#3FAE2E","#6482E6","#E8297F"]},"legend":null},
"strokeWidth":{"condition":[{"test":"datum.c==4","value":2.2},{"test":"datum.c==2","value":1.8}],"value":1.2}}},
{"data":{"name":"ell"},"transform":[{"filter":"datum.p=='e'"}],"mark":{"type":"point","shape":"M0,-1A0.126,1,0,1,1,0,1A0.126,1,0,1,1,0,-1Z","size":53361,"filled":true,"fill":"#cfe2ea","fillOpacity":0.55,"stroke":"#111111","strokeWidth":1.2,"strokeDash":[2.5,2],"opacity":1},
"encoding":{"x":{"field":"t","type":"quantitative","axis":{"orient":"bottom","offset":-123.5,"tickCount":50,"ticks":true,"tickSize":6,"labels":false,"domain":false,"grid":false,"title":null}},
"y":{"field":"v","type":"quantitative","axis":{"orient":"left","offset":-197.5,"tickCount":40,"ticks":true,"tickSize":6,"labels":false,"domain":false,"grid":false,"title":null}}}},
{"data":{"name":"arr"},"transform":[{"filter":"datum.p=='e'"}],"mark":{"type":"rule","strokeWidth":3,"color":"#000000"},
"encoding":{"x":{"field":"t1","type":"quantitative","axis":null},"y":{"field":"v1","type":"quantitative","axis":null},"x2":{"field":"t2"},"y2":{"field":"v2"}}},
{"data":{"name":"arr"},"transform":[{"filter":"datum.p=='e'"},{"calculate":"atan2((datum.t2-datum.t1)*38.9,(datum.v2-datum.v1)*30.125)*180/PI","as":"ang"}],"mark":{"type":"point","shape":"M0,0L0.7,1.8L-0.7,1.8Z","size":100,"filled":true,"color":"#000000","opacity":1},
"encoding":{"x":{"field":"t2","type":"quantitative","axis":null},"y":{"field":"v2","type":"quantitative","axis":null},"angle":{"field":"ang","type":"quantitative","scale":null}}},
{"data":{"name":"lab"},"transform":[{"filter":"datum.p=='e'"}],"mark":{"type":"text","font":"Liberation Serif","fontStyle":"italic","align":"left","baseline":"alphabetic","color":"#000000"},
"encoding":{"x":{"field":"tb","type":"quantitative","axis":null},"y":{"field":"vb","type":"quantitative","axis":null},"text":{"field":"b","type":"nominal"},"size":{"condition":{"test":"datum.b=='e'","value":19},"value":17}}},
{"data":{"name":"lab"},"transform":[{"filter":"datum.p=='e'"}],"mark":{"type":"text","font":"Liberation Serif","fontStyle":"italic","align":"left","baseline":"alphabetic","color":"#000000","fontSize":10,"dy":4},
"encoding":{"x":{"field":"ts","type":"quantitative","axis":null},"y":{"field":"vb","type":"quantitative","axis":null},"text":{"field":"s","type":"nominal"}}},
{"data":{"name":"lab"},"transform":[{"filter":"datum.p=='e'"}],"mark":{"type":"text","font":"Liberation Serif","fontStyle":"italic","align":"left","baseline":"alphabetic","color":"#000000"},
"encoding":{"x":{"field":"tr","type":"quantitative","axis":null},"y":{"field":"vb","type":"quantitative","axis":null},"text":{"field":"r","type":"nominal"},"size":{"condition":{"test":"datum.b=='e'","value":19},"value":16}}},
{"data":{"name":"chm"},"transform":[{"filter":"datum.p=='e'"}],"mark":{"type":"text","font":"DejaVu Sans","fontSize":8,"align":"right","baseline":"middle","dx":-1},
"encoding":{"x":{"datum":0,"type":"quantitative","axis":null},"y":{"field":"v","type":"quantitative","axis":null},"text":{"field":"m","type":"nominal"},"color":{"field":"c","type":"nominal","legend":null}}},
{"data":{"name":"chm"},"transform":[{"filter":"datum.p=='e'"}],"mark":{"type":"text","font":"Liberation Sans","fontSize":10,"align":"left","baseline":"middle","dx":3},
"encoding":{"x":{"datum":0,"type":"quantitative","axis":null},"y":{"field":"v","type":"quantitative","axis":null},"text":{"field":"c","type":"nominal"},"color":{"field":"c","type":"nominal","legend":null}}}
]}
]}
]
}
